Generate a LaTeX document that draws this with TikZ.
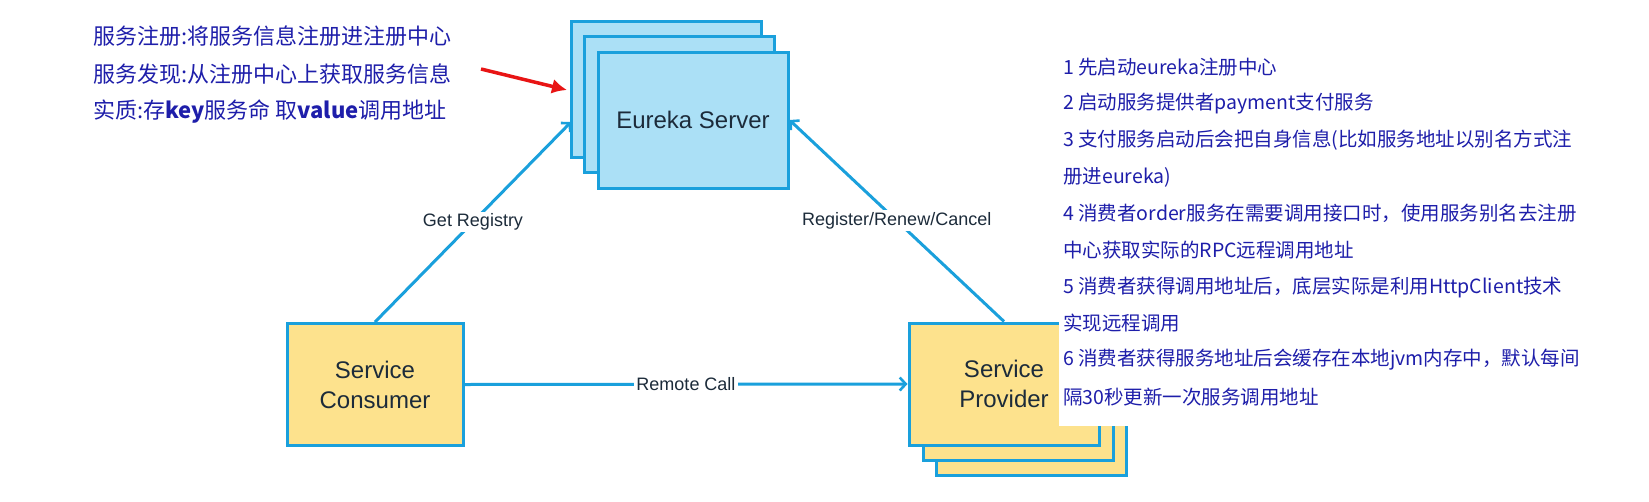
\documentclass[tikz,border=0pt]{standalone}
\usepackage{fontspec}
\setmainfont{Liberation Sans}
\newfontfamily\cjk{Noto Sans CJK SC}
\usetikzlibrary{arrows.meta}
\definecolor{lineblue}{RGB}{26,160,220}
\definecolor{eurekafill}{RGB}{171,224,246}
\definecolor{yellowfill}{RGB}{253,226,141}
\definecolor{boxtext}{RGB}{28,43,58}
\definecolor{noteblue}{RGB}{30,30,170}
\definecolor{redarrow}{RGB}{232,20,20}
\begin{document}
\begin{tikzpicture}[x=1pt,y=-1pt,
  box/.style={draw=lineblue, line width=3pt, inner sep=0pt, align=center,
    font=\fontsize{24}{30}\selectfont, text=boxtext},
  bluebox/.style={box, fill=eurekafill, minimum width=190pt, minimum height=136pt},
  yellowbox/.style={box, fill=yellowfill, minimum width=190pt, minimum height=122pt},
  conn/.style={draw=lineblue, line width=3pt,
    -{Straight Barb[length=6pt,width=13pt,line width=2.6pt]}},
  lbl/.style={fill=white, inner sep=2pt, font=\fontsize{18}{20}\selectfont, text=boxtext},
  leftnote/.style={anchor=west, inner sep=0pt, text=noteblue, font=\cjk\fontsize{22}{26}\selectfont},
  panelline/.style={anchor=west, inner sep=0pt, text=noteblue, font=\cjk\fontsize{19.5}{24}\selectfont}
]
\useasboundingbox (0,0) rectangle (1649,501);
\fill[white] (0,0) rectangle (1649,501);

% Eureka server stack
\node[bluebox] (eback) at (666.5,89.5) {};
\node[bluebox] (emid) at (679.5,104.5) {};
\node[bluebox] (eureka) at (693,120) {Eureka Server};

% Service consumer
\node[yellowbox, minimum width=176pt] (consumer) at (375,384.5) {Service\\Consumer};

% Service provider stack
\node[yellowbox] (pback) at (1031.5,414.5) {};
\node[yellowbox] (pmid) at (1018,399.5) {};
\node[yellowbox] (provider) at (1004,384) {Service\\Provider};

% connectors
\coordinate (grend) at (571,122);
\draw[conn] (consumer.north) -- node[lbl] {Get Registry} (grend);
\draw[conn] (provider.north) -- node[lbl] {Register/Renew/Cancel} (eureka.east);
\draw[conn] (consumer.east) -- node[lbl] {Remote Call} (provider.west);

% red arrow
\coordinate (redstart) at (481,69);
\coordinate (redtip) at (567,90);
\draw[redarrow, line width=3.5pt, -{Latex[length=15pt,width=15pt]}] (redstart) -- (redtip);

% left notes
\node[leftnote] (n1) at (93,36) {服务注册:将服务信息注册进注册中心};
\node[leftnote] (n2) at (93,74) {服务发现:从注册中心上获取服务信息};
\node[leftnote] (n3) at (93,112) {实质:存\textbf{key}服务命 取\textbf{value}调用地址};

% right panel
\fill[white] (1059,40) rectangle (1640,426);
\node[panelline] (s1) at (1063,67) {1 先启动eureka注册中心};
\node[panelline] (s2) at (1063,104) {2 启动服务提供者payment支付服务};
\node[panelline] (s3) at (1063,140) {3 支付服务启动后会把自身信息(比如服务地址以别名方式注};
\node[panelline] (s4) at (1063,177) {册进eureka)};
\node[panelline] (s5) at (1063,213) {4 消费者order服务在需要调用接口时，使用服务别名去注册};
\node[panelline] (s6) at (1063,250) {中心获取实际的RPC远程调用地址};
\node[panelline] (s7) at (1063,287) {5 消费者获得调用地址后，底层实际是利用HttpClient技术};
\node[panelline] (s8) at (1063,323) {实现远程调用};
\node[panelline] (s9) at (1063,360) {6 消费者获得服务地址后会缓存在本地jvm内存中，默认每间};
\node[panelline] (s10) at (1063,397) {隔30秒更新一次服务调用地址};
\end{tikzpicture}
\end{document}
